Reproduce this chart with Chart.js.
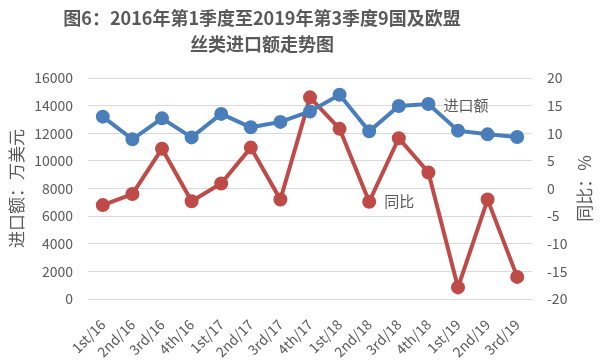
<!DOCTYPE html>
<html>
<head>
<meta charset="utf-8">
<script src="https://cdn.jsdelivr.net/npm/chart.js@4"></script>
<style>
  html, body { margin: 0; padding: 0; background: #fff; }
  #wrap { width: 600px; height: 363px; }
</style>
</head>
<body>
<div id="wrap"><canvas id="chart"></canvas></div>
<script>
// 数据
const quarters = ["1st/16", "2nd/16", "3rd/16", "4th/16", "1st/17", "2nd/17", "3rd/17", "4th/17",
                  "1st/18", "2nd/18", "3rd/18", "4th/18", "1st/19", "2nd/19", "3rd/19"];
const importValue = [13200, 11560, 13080, 11700, 13400, 12430, 12820, 13580,
                     14790, 12140, 13970, 14120, 12190, 11920, 11730];
const yoyGrowth = [-3.0, -1.0, 7.2, -2.3, 0.9, 7.4, -2.0, 16.5,
                   10.8, -2.4, 9.1, 2.9, -17.9, -2.0, -16.0];
const leftTicks = [0, 2000, 4000, 6000, 8000, 10000, 12000, 14000, 16000];
const rightTicks = [-20, -15, -10, -5, 0, 5, 10, 15, 20];
const titleLines = ["图6：2016年第1季度至2019年第3季度9国及欧盟", "丝类进口额走势图"];

const gray = "#595959";
const fontFamily = "'Noto Sans CJK SC', 'Liberation Sans', sans-serif";

// 标题、线旁标签、右侧轴标题
const labelPlugin = {
    id: "seriesLabels",
    afterDatasetsDraw(chart) {
        const ctx = chart.ctx;
        ctx.save();
        ctx.fillStyle = gray;
        ctx.textBaseline = "middle";

        // 标题
        ctx.textAlign = "center";
        ctx.font = "bold 18px " + fontFamily;
        ctx.fillText(titleLines[0], 262, 18);
        ctx.fillText(titleLines[1], 262, 44);

        // 系列名称
        ctx.textAlign = "left";
        ctx.font = "15px " + fontFamily;
        const blue = chart.getDatasetMeta(0).data[11];
        const red = chart.getDatasetMeta(1).data[9];
        ctx.fillText("进口额", blue.x + 15, blue.y + 1);
        ctx.fillText("同比", red.x + 15, red.y);

        // 右侧轴标题
        const area = chart.chartArea;
        ctx.translate(585, (area.top + area.bottom) / 2);
        ctx.rotate(-Math.PI / 2);
        ctx.textAlign = "center";
        ctx.font = "17px " + fontFamily;
        ctx.fillText("同比：%", 0, 0);
        ctx.restore();
    }
};

function createChart() {
    const ctx = document.getElementById("chart").getContext("2d");
    new Chart(ctx, {
        type: "line",
        data: {
            labels: quarters,
            datasets: [{
                label: "进口额",
                data: importValue,
                yAxisID: "y",
                borderColor: "#4A7EBB",
                backgroundColor: "#4A7EBB",
                borderWidth: 4,
                pointRadius: 5,
                pointHoverRadius: 5,
                tension: 0
            }, {
                label: "同比",
                data: yoyGrowth,
                yAxisID: "y1",
                borderColor: "#BE4B48",
                backgroundColor: "#BE4B48",
                borderWidth: 4,
                pointRadius: 5,
                pointHoverRadius: 5,
                tension: 0
            }]
        },
        options: {
            responsive: true,
            maintainAspectRatio: false,
            animation: false,
            layout: { padding: { top: 78, bottom: 0, left: 0, right: 0 } },
            plugins: {
                legend: { display: false },
                tooltip: { enabled: false },
                title: { display: false }
            },
            scales: {
                x: {
                    offset: true,
                    grid: { display: false },
                    border: { display: true, color: "#d9d9d9" },
                    ticks: {
                        color: gray,
                        font: { family: fontFamily, size: 14 },
                        maxRotation: 45,
                        minRotation: 45,
                        padding: 9,
                        autoSkip: false
                    },
                    afterFit(scale) { scale.height = 64; }
                },
                y: {
                    position: "left",
                    min: 0,
                    max: 16000,
                    afterBuildTicks(scale) { scale.ticks = leftTicks.map(v => ({ value: v })); },
                    grid: { color: "#d9d9d9", drawTicks: false },
                    border: { display: false },
                    ticks: {
                        color: gray,
                        font: { family: fontFamily, size: 14 },
                        padding: 15,
                        callback: v => String(v)
                    },
                    title: {
                        display: true,
                        text: "进口额：万美元",
                        color: gray,
                        font: { family: fontFamily, size: 17 },
                        padding: { top: 6, bottom: 0 }
                    },
                    afterFit(scale) { scale.width = 88; }
                },
                y1: {
                    position: "right",
                    min: -20,
                    max: 20,
                    afterBuildTicks(scale) { scale.ticks = rightTicks.map(v => ({ value: v })); },
                    grid: { display: false, drawTicks: false },
                    border: { display: false },
                    ticks: {
                        color: gray,
                        font: { family: fontFamily, size: 14 },
                        padding: 15
                    },
                    afterFit(scale) { scale.width = 68; }
                }
            }
        },
        plugins: [labelPlugin]
    });
}

document.addEventListener("DOMContentLoaded", createChart);
</script>
</body>
</html>
